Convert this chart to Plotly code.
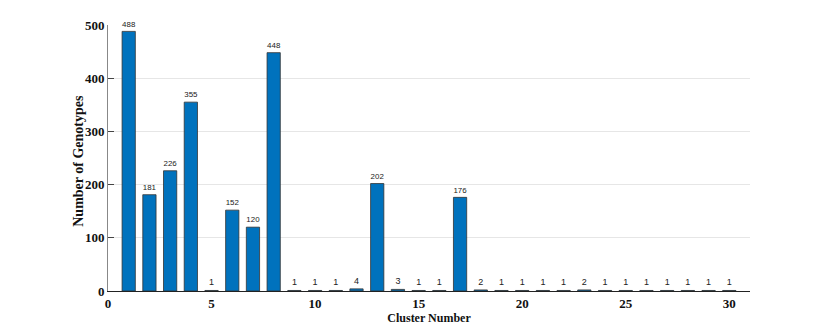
import plotly.graph_objects as go

clusters = list(range(1, 31))
counts = [488, 181, 226, 355, 1, 152, 120, 448, 1, 1,
          1, 4, 202, 3, 1, 1, 176, 2, 1, 1,
          1, 1, 2, 1, 1, 1, 1, 1, 1, 1]
x_ticks = [0, 5, 10, 15, 20, 25, 30]
y_ticks = [0, 100, 200, 300, 400, 500]

fig = go.Figure()
fig.add_trace(go.Bar(
    x=clusters,
    y=counts,
    width=0.64,
    marker=dict(color='#0072BD', line=dict(color='#333333', width=0.8)),
    text=[str(c) for c in counts],
    textposition='outside',
    textfont=dict(family='Liberation Sans', size=9, color='#222222'),
    cliponaxis=False,
))

fig.update_xaxes(
    range=[0, 31],
    tickvals=x_ticks,
    ticktext=['<b>%d</b>' % v for v in x_ticks],
    showgrid=False,
    showline=True, linecolor='#222222', linewidth=1,
    ticks='', zeroline=False, automargin=False,
    tickfont=dict(family='Liberation Serif', size=13, color='#111111'),
    title=dict(text='<b>Cluster Number</b>', standoff=4,
               font=dict(family='Liberation Serif', size=12, color='#111111')),
)
fig.update_yaxes(
    range=[0, 500],
    tickvals=y_ticks,
    ticktext=['<b>%d</b>' % v for v in y_ticks],
    showgrid=True, gridcolor='#e6e6e6', gridwidth=1,
    showline=True, linecolor='#888888', linewidth=1,
    ticks='inside', ticklen=6, tickcolor='#444444', zeroline=False,
    automargin=False,
    tickfont=dict(family='Liberation Serif', size=13, color='#111111'),
)

# y title as annotation so it sits right next to the tick labels
fig.add_annotation(
    text='<b>Number of Genotypes</b>',
    xref='paper', yref='paper', x=-0.045, y=0.49,
    xanchor='center', yanchor='middle', textangle=-90, showarrow=False,
    font=dict(family='Liberation Serif', size=14, color='#111111'),
)

# page body adds ~8px offset, so the figure is a bit smaller than the window
fig.update_layout(
    width=822, height=319,
    paper_bgcolor='white', plot_bgcolor='white',
    margin=dict(l=100, r=80, t=17, b=36),
    showlegend=False,
)

fig.write_html("out.html")
